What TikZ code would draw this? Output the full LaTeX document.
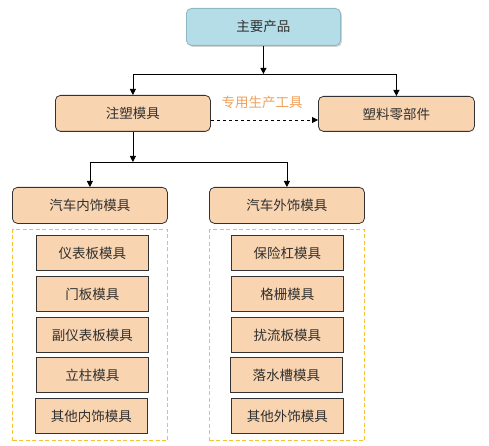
\documentclass[tikz,border=0pt]{standalone}
\usepackage{fontspec}
\newfontfamily\cjk{Noto Sans CJK SC}
\usetikzlibrary{arrows.meta,shadows}
\definecolor{peach}{HTML}{F9D4B0}
\definecolor{skyb}{HTML}{B4DDE8}
\definecolor{skyedge}{HTML}{8FB8C6}
\definecolor{gold}{HTML}{F5C232}
\definecolor{lbl}{HTML}{F0A05A}
\definecolor{txt}{HTML}{303030}
\tikzset{
  base/.style={draw=black!80, line width=0.8pt, fill=peach, text=txt,
    font=\cjk\fontsize{13.5}{15}\selectfont, inner sep=0pt, anchor=north west},
  topbox/.style={base, fill=skyb, draw=skyedge, rounded corners=5pt,
    drop shadow={shadow xshift=1.5pt, shadow yshift=-1.5pt, fill=black!35}},
  lvbox/.style={base, rounded corners=5pt},
  leaf/.style={base, line width=0.9pt},
  conn/.style={draw=black, line width=0.8pt},
  arr/.style={conn, -{Triangle[length=6pt,width=6pt]}},
  grp/.style={draw=gold, line width=1.1pt, dash pattern=on 4pt off 2.5pt},
}
\begin{document}
\begin{tikzpicture}[x=1pt,y=-1pt]
\useasboundingbox (0,0) rectangle (489,446);
\node[topbox, minimum width=154pt, minimum height=37pt] (top) at (186,8) {主要产品};
\node[lvbox, minimum width=155pt, minimum height=36pt] (zs) at (55,95) {注塑模具};
\node[lvbox, minimum width=156pt, minimum height=35pt] (lj) at (318,96) {塑料零部件};
\node[lvbox, minimum width=155pt, minimum height=36pt] (ns) at (12,187) {汽车内饰模具};
\node[lvbox, minimum width=155pt, minimum height=36pt] (ws) at (209,187) {汽车外饰模具};
% groups
\node[grp, minimum width=155pt, minimum height=211pt, inner sep=0pt, anchor=north west] (g1) at (12,229) {};
\node[grp, minimum width=155pt, minimum height=211pt, inner sep=0pt, anchor=north west] (g2) at (209,229) {};
% leaves
\node[leaf, minimum width=112pt, minimum height=35pt] (a1) at (36,235) {仪表板模具};
\node[leaf, minimum width=112pt, minimum height=35pt] (a2) at (36,276) {门板模具};
\node[leaf, minimum width=112pt, minimum height=35pt] (a3) at (36,317) {副仪表板模具};
\node[leaf, minimum width=112pt, minimum height=35pt] (a4) at (36,357) {立柱模具};
\node[leaf, minimum width=112pt, minimum height=35pt] (a5) at (35,398) {其他内饰模具};
\node[leaf, minimum width=112pt, minimum height=35pt] (b1) at (231,235) {保险杠模具};
\node[leaf, minimum width=112pt, minimum height=35pt] (b2) at (231,276) {格栅模具};
\node[leaf, minimum width=112pt, minimum height=35pt] (b3) at (231,317) {扰流板模具};
\node[leaf, minimum width=112pt, minimum height=35pt] (b4) at (230,357) {落水槽模具};
\node[leaf, minimum width=112pt, minimum height=35pt] (b5) at (231,398) {其他外饰模具};
% connectors
\coordinate (j1) at (top.south |- 0,74);
\coordinate (j2) at (zs.south |- 0,162);
\draw[arr] (top.south) -- (j1);
\draw[arr] (j1) -| (zs.north);
\draw[arr] (j1) -| (lj.north);
\draw[arr] (zs.south) -- (j2);
\draw[arr] (j2) -| (ns.north);
\draw[arr] (j2) -| (ws.north);
\draw[arr, dashed] (zs.east |- 0,120) -- (lj.west |- 0,120);
\node[font=\cjk\fontsize{13.5}{15}\selectfont, text=lbl] (lab) at (262,102) {专用生产工具};
\end{tikzpicture}
\end{document}
